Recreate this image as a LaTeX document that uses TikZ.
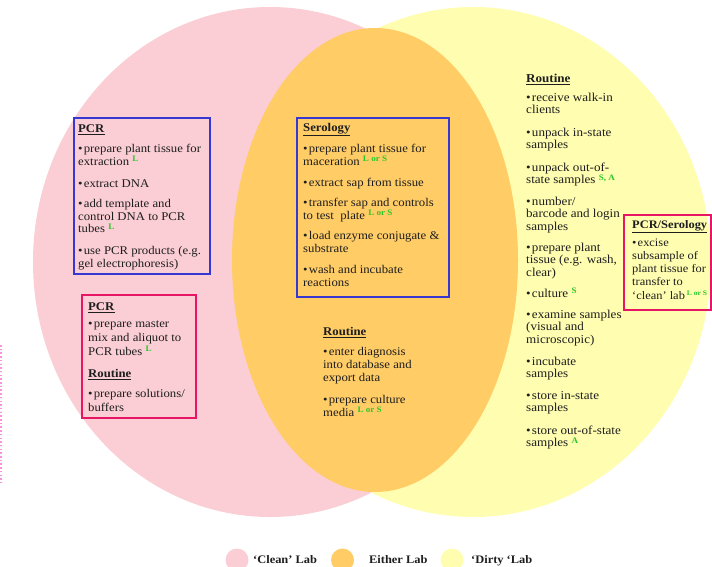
\documentclass[tikz,border=0pt]{standalone}
\usepackage{fontspec}
\setmainfont[FakeStretch=1.08]{Liberation Serif}
\definecolor{pinkfill}{RGB}{250,206,212}
\definecolor{yellowfill}{RGB}{255,253,176}
\definecolor{orangefill}{RGB}{255,204,102}
\definecolor{boxblue}{RGB}{55,55,210}
\definecolor{boxpink}{RGB}{232,20,100}
\definecolor{supgreen}{RGB}{40,200,40}
\definecolor{txtgray}{RGB}{30,30,30}
\newcommand\st{\rule{0pt}{9pt}}
\newcommand\gsup[1]{\raisebox{3.8pt}{\fontsize{8.4}{9}\selectfont\bfseries\color{supgreen}#1}}
\newcommand\gsupsm[1]{\raisebox{3.8pt}{\fontsize{7}{8}\selectfont\bfseries\color{supgreen}#1}}
\newcommand\bul{\st\textbullet\kern1.2pt}
\newcommand\hd[1]{\st\underline{\textbf{#1}}}
\begin{document}
\begin{tikzpicture}[x=1pt,y=-1pt,
  txt/.style={anchor=north west, inner sep=0pt, align=left, yshift=9pt, text=txtgray,
    font=\fontsize{11.8}{12.8}\selectfont},
  txtP/.style={txt, font=\fontsize{11.8}{14}\selectfont},
  txtS/.style={txt, font=\fontsize{11.8}{13}\selectfont},
  txtR/.style={txt, font=\fontsize{12.1}{12.7}\selectfont},
  txtX/.style={txt, font=\fontsize{11.5}{13.2}\selectfont},
  bluebox/.style={draw=boxblue, line width=2pt},
  pinkbox/.style={draw=boxpink, line width=2pt},
  legtxt/.style={anchor=base west, inner sep=0pt, text=txtgray, font=\fontsize{11.5}{13}\selectfont\bfseries}]
\useasboundingbox (0,0) rectangle (712,566);
% clean lab
\fill[pinkfill] (270,262) ellipse [x radius=237, y radius=255];
% dirty lab
\fill[yellowfill] (473,262) ellipse [x radius=238, y radius=255];
% either lab
\fill[orangefill] (375,260) ellipse [x radius=143, y radius=232];
% left edge artefact
\draw[pinkfill!70!magenta, line width=1.6pt, dash pattern=on 1.5pt off 2.2pt] (1,345) -- (1,482);
% boxes
\draw[bluebox] (74,118) rectangle (210,274);
\draw[pinkbox] (82,295) rectangle (196,418);
\draw[bluebox] (297,118) rectangle (449,297);
\draw[pinkbox] (624,215) rectangle (711,310);
% PCR (clean, blue box)
\node[txt] (pcrA) at (78,132) {\hd{PCR}};
\node[txt] (pcrA1) at (78,152) {\bul prepare plant tissue for\\extraction \gsup{L}};
\node[txt] (pcrA2) at (78,187) {\bul extract DNA};
\node[txt] (pcrA3) at (78,207) {\bul add template and\\control DNA to PCR\\tubes \gsup{L}};
\node[txt] (pcrA4) at (78,254) {\bul use PCR products (e.g.\\gel electrophoresis)};
% PCR / Routine (clean, pink box)
\node[txtP] (pcrB) at (88,310) {\hd{PCR}};
\node[txtP] (pcrB1) at (88,327) {\bul prepare master\\mix and aliquot to\\PCR tubes \gsup{L}};
\node[txtP] (rtB) at (88,377) {\hd{Routine}};
\node[txtP] (rtB1) at (88,397) {\bul prepare solutions/\\buffers};
% Serology
\node[txtS] (ser) at (303,131) {\hd{Serology}};
\node[txtS] (ser1) at (303,152) {\bul prepare plant tissue for\\maceration \gsup{L or S}};
\node[txtS] (ser2) at (303,186) {\bul extract sap from tissue};
\node[txtS] (ser3) at (303,206) {\bul transfer sap and controls\\to test\ \ plate \gsup{L or S}};
\node[txtS] (ser4) at (303,239) {\bul load enzyme conjugate \&\\substrate};
\node[txtS] (ser5) at (303,273) {\bul wash and incubate\\reactions};
% Routine (either)
\node[txtS] (rtM) at (323,335) {\hd{Routine}};
\node[txtS] (rtM1) at (323,355) {\bul enter diagnosis\\into database and\\export data};
\node[txtS] (rtM2) at (323,403) {\bul prepare culture\\media \gsup{L or S}};
% Routine (dirty)
\node[txtR] (rtR) at (526,82) {\hd{Routine}};
\node[txtR] (rtR1) at (526,101) {\bul receive walk-in\\clients};
\node[txtR] (rtR2) at (526,136) {\bul unpack in-state\\samples};
\node[txtR] (rtR3) at (526,171) {\bul unpack out-of-\\state samples \gsup{S, A}};
\node[txtR] (rtR4) at (526,205) {\bul number/\\barcode and login\\samples};
\node[txtR] (rtR5) at (526,251) {\bul prepare plant\\tissue (e.g. wash,\\clear)};
\node[txtR] (rtR6) at (526,297) {\bul culture \gsup{S}};
\node[txtR] (rtR7) at (526,318) {\bul examine samples\\(visual and\\microscopic)};
\node[txtR] (rtR8) at (526,365) {\bul incubate\\samples};
\node[txtR] (rtR9) at (526,399) {\bul store in-state\\samples};
\node[txtR] (rtR10) at (526,434) {\bul store out-of-state\\samples \gsup{A}};
% PCR/Serology (dirty, pink box)
\node[txtX] (ps) at (632,228) {\hd{PCR/Serology}};
\node[txtX] (ps1) at (632,246) {\bul excise\\subsample of\\plant tissue for\\transfer to\\`clean' lab\kern2pt\gsupsm{L or S}};
% legend
\fill[pinkfill] (237,560) circle (11.5);
\fill[orangefill] (342.5,560) circle (11.5);
\fill[yellowfill] (452,560) circle (11.5);
\node[legtxt] (legC) at (253,563) {`Clean' Lab};
\node[legtxt] (legE) at (369,563) {Either Lab};
\node[legtxt] (legD) at (471,563) {`Dirty `Lab};
\end{tikzpicture}
\end{document}
